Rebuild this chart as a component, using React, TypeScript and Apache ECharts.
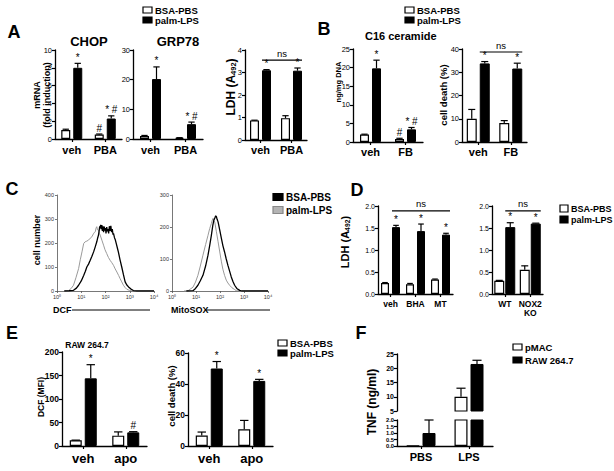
import React, { useEffect, useRef } from 'react';
import * as echarts from 'echarts';

const FONT = '"Liberation Sans", Arial, Helvetica, sans-serif';

// ---------------- Panel A ----------------
const aCats = ['veh', 'PBA'];
const chopBsa = [1.0, 0.5];
const chopBsaErr = [1.1, 0.56];
const chopPalm = [8.0, 2.3];
const chopPalmErr = [8.5, 2.6];
const chopBsaMarks = ['', '#'];
const chopPalmMarks = ['*', '* #'];

const grpBsa = [1.0, 0.4];
const grpBsaErr = [1.2, 0.45];
const grpPalm = [20.2, 5.0];
const grpPalmErr = [24.3, 5.7];
const grpBsaMarks = ['', ''];
const grpPalmMarks = ['*', '* #'];

const ldhABsa = [0.87, 0.97];
const ldhABsaErr = [0.88, 1.08];
const ldhAPalm = [3.1, 3.08];
const ldhAPalmErr = [3.13, 3.2];
const ldhAPalmMarks = ['*', '*'];
const ldhANs = 3.55;

// ---------------- Panel B ----------------
const bCats = ['veh', 'FB'];
const cerBsa = [2.0, 0.8];
const cerBsaErr = [2.1, 1.0];
const cerPalm = [19.8, 3.4];
const cerPalmErr = [22.0, 3.9];
const cerBsaMarks = ['', '#'];
const cerPalmMarks = ['*', '* #'];

const deathBBsa = [10.0, 8.2];
const deathBBsaErr = [14.0, 9.2];
const deathBPalm = [33.8, 31.6];
const deathBPalmErr = [34.6, 33.9];
const deathBPalmMarks = ['*', '*'];
const deathBNs = 38.7;

// ---------------- Panel C (x = log10 fluorescence) ----------------
const cTicksX = ['10⁰', '10¹', '10²', '10³', '10⁴'];
const dcfBsa = [
  [0.3, 0], [0.5, 1], [0.68, 3], [0.8, 12], [0.89, 24], [1.0, 42], [1.1, 65], [1.17, 82], [1.23, 100],
  [1.3, 112], [1.37, 128], [1.44, 145], [1.51, 163], [1.58, 185], [1.64, 205], [1.68, 222], [1.71, 233],
  [1.74, 252], [1.76, 270], [1.78, 262], [1.8, 276], [1.82, 258], [1.85, 275], [1.87, 250], [1.9, 270],
  [1.92, 245], [1.95, 268], [1.97, 252], [2.0, 262], [2.02, 240], [2.05, 266], [2.08, 248], [2.1, 258],
  [2.13, 240], [2.16, 270], [2.19, 250], [2.22, 272], [2.25, 245], [2.28, 258], [2.31, 235], [2.33, 240],
  [2.37, 222], [2.4, 215], [2.45, 195], [2.5, 175], [2.53, 163], [2.6, 130], [2.67, 100], [2.74, 68],
  [2.81, 38], [2.88, 25], [2.95, 17], [3.05, 8], [3.15, 2], [3.3, 0], [4.0, 0],
];
const dcfPalm = [
  [0.3, 0], [0.48, 2], [0.58, 10], [0.68, 24], [0.78, 55], [0.89, 93], [0.96, 130], [1.03, 163],
  [1.1, 198], [1.16, 205], [1.23, 208], [1.3, 212], [1.37, 220], [1.44, 226], [1.5, 238], [1.55, 245],
  [1.58, 247], [1.61, 262], [1.64, 268], [1.67, 255], [1.71, 254], [1.75, 240], [1.78, 233], [1.85, 212],
  [1.92, 191], [1.98, 172], [2.05, 156], [2.12, 140], [2.19, 128], [2.26, 118], [2.33, 107], [2.4, 92],
  [2.47, 79], [2.54, 65], [2.6, 52], [2.67, 38], [2.74, 24], [2.81, 14], [2.88, 7], [2.98, 3], [3.08, 0], [4.0, 0],
];
const mitoBsa = [
  [0.6, 0], [0.875, 1], [0.98, 8], [1.08, 18], [1.18, 32], [1.29, 49], [1.4, 78], [1.5, 112], [1.57, 142],
  [1.64, 174], [1.7, 205], [1.74, 220], [1.78, 227], [1.82, 235], [1.85, 232], [1.88, 224], [1.92, 216],
  [1.99, 190], [2.06, 164], [2.12, 142], [2.19, 122], [2.26, 100], [2.33, 80], [2.4, 62], [2.47, 44],
  [2.54, 30], [2.61, 18], [2.7, 8], [2.82, 2], [2.9, 0], [4.0, 0],
];
const mitoPalm = [
  [0.5, 0], [0.67, 1], [0.875, 12], [0.98, 28], [1.08, 49], [1.18, 78], [1.29, 112], [1.4, 145], [1.5, 174],
  [1.57, 195], [1.64, 211], [1.68, 222], [1.71, 227], [1.74, 220], [1.78, 216], [1.85, 185], [1.92, 154],
  [1.99, 122], [2.06, 91], [2.12, 68], [2.19, 49], [2.26, 34], [2.33, 25], [2.4, 18], [2.5, 10], [2.6, 5],
  [2.68, 1], [2.8, 0], [4.0, 0],
];

// ---------------- Panel D ----------------
const d1Cats = ['veh', 'BHA', 'MT'];
const d1Bsa = [0.25, 0.22, 0.33];
const d1BsaErr = [0.26, 0.24, 0.34];
const d1Palm = [1.52, 1.43, 1.35];
const d1PalmErr = [1.56, 1.59, 1.38];
const d1PalmMarks = ['*', '*', '*'];
const d1Ns = 1.89;

const d2Cats = ['WT', 'NOX2\nKO'];
const d2Bsa = [0.3, 0.55];
const d2BsaErr = [0.31, 0.64];
const d2Palm = [1.52, 1.6];
const d2PalmErr = [1.62, 1.61];
const d2PalmMarks = ['*', '*'];
const d2Ns = 1.89;

// ---------------- Panel E ----------------
const eCats = ['veh', 'apo'];
const dcfMfiBsa = [12, 22];
const dcfMfiBsaErr = [12.5, 30];
const dcfMfiPalm = [144, 29];
const dcfMfiPalmErr = [173, 30.5];
const dcfMfiPalmMarks = ['*', '#'];

const deathEBsa = [6.8, 10.8];
const deathEBsaErr = [9, 16.5];
const deathEPalm = [50, 42];
const deathEPalmErr = [54.5, 43];
const deathEPalmMarks = ['*', '*'];

// ---------------- Panel F ----------------
const fCats = ['PBS', 'LPS'];
const tnfPmac = [0.03, 10.0];
const tnfPmacErr = [0.03, 13.0];
const tnfRaw = [1.0, 21.5];
const tnfRawErr = [2.0, 22.8];

// ---------------- builders ----------------
function buildOption() {
  const grid: any[] = [];
  const xAxis: any[] = [];
  const yAxis: any[] = [];
  const series: any[] = [];

  const addBar = (c: any) => {
    const idx = grid.length;
    grid.push({ left: c.left, top: c.top, width: c.width, height: c.height });
    xAxis.push({
      type: 'category', gridIndex: idx, data: c.cats, show: c.showX !== false,
      axisLine: { show: true, onZero: false, lineStyle: { color: '#000', width: 1.3 } },
      axisTick: { show: true, alignWithLabel: true, length: 3, lineStyle: { color: '#000', width: 1.2 } },
      axisLabel: {
        interval: 0, fontFamily: FONT, fontWeight: 'bold', fontSize: c.catSize, color: '#000',
        margin: c.catMargin, lineHeight: c.catSize + 1,
      },
    });
    yAxis.push({
      type: 'value', gridIndex: idx, min: c.yMin, max: c.yMax, interval: c.yInterval,
      axisLine: { show: true, lineStyle: { color: '#000', width: 1.3 } },
      axisTick: { show: true, length: 3, lineStyle: { color: '#000', width: 1.2 } },
      splitLine: { show: false },
      axisLabel: {
        fontFamily: FONT, fontSize: c.ySize, fontWeight: c.yWeight || 'normal', color: '#000', margin: 3,
        formatter: (v: number) => (c.yDec ? v.toFixed(c.yDec) : String(v)),
      },
    });
    const prep = (arr: number[]) => arr.map((v) => (v < c.yMin ? '-' : v));
    series.push({
      type: 'bar', xAxisIndex: idx, yAxisIndex: idx, data: prep(c.white), barWidth: c.bw,
      barGap: `${(c.gap / c.bw) * 100}%`, clip: true, silent: true,
      itemStyle: { color: '#fff', borderColor: '#000', borderWidth: 1.2 },
    });
    series.push({
      type: 'bar', xAxisIndex: idx, yAxisIndex: idx, data: prep(c.black), barWidth: c.bw,
      barGap: `${(c.gap / c.bw) * 100}%`, clip: true, silent: true,
      itemStyle: { color: '#000', borderColor: '#000', borderWidth: 1 },
    });
    const meta: any[] = [];
    c.cats.forEach((_: any, i: number) => {
      const groups = [
        [c.white, c.whiteErr, c.whiteMarks, 0],
        [c.black, c.blackErr, c.blackMarks, 1],
      ];
      groups.forEach(([vals, errs, marks, side]: any) => {
        const v = vals[i];
        const e = errs && errs[i] != null ? errs[i] : v;
        if (v < c.yMin || v > c.yMax || e > c.yMax) return;
        meta.push({ i, v, e, side, mark: marks ? marks[i] : '' });
      });
    });
    series.push({
      type: 'custom', xAxisIndex: idx, yAxisIndex: idx, silent: true, z: 5,
      data: meta.map((m) => [m.i, m.v, m.e]),
      renderItem: (params: any, api: any) => {
        const m = meta[params.dataIndex];
        const pv = api.coord([m.i, m.v]);
        const pe = api.coord([m.i, m.e]);
        const x = pv[0] + (m.side ? 1 : -1) * (c.bw + c.gap) / 2;
        const children: any[] = [];
        if (m.e > m.v) {
          const cw = c.bw * 0.35;
          children.push({ type: 'line', shape: { x1: x, y1: pv[1], x2: x, y2: pe[1] }, style: { stroke: '#000', lineWidth: 1.2 } });
          children.push({ type: 'line', shape: { x1: x - cw, y1: pe[1], x2: x + cw, y2: pe[1] }, style: { stroke: '#000', lineWidth: 1.2 } });
        }
        if (m.mark) {
          children.push({
            type: 'text',
            style: { text: m.mark, x, y: pe[1] - 1, textAlign: 'center', textVerticalAlign: 'bottom', fontSize: c.markSize, fontFamily: FONT, fill: '#000' },
          });
        }
        return { type: 'group', children };
      },
    });
    if (c.ns != null) {
      series.push({
        type: 'custom', xAxisIndex: idx, yAxisIndex: idx, silent: true, z: 5,
        data: [[0, c.ns]],
        renderItem: (params: any, api: any) => {
          const n = c.cats.length;
          const p0 = api.coord([0, c.ns]);
          const p1 = api.coord([n - 1, c.ns]);
          const x0 = p0[0] + c.gap / 2;
          const x1 = p1[0] + c.gap / 2 + c.bw;
          return {
            type: 'group',
            children: [
              { type: 'line', shape: { x1: x0, y1: p0[1], x2: x1, y2: p0[1] }, style: { stroke: '#000', lineWidth: 1.2 } },
              { type: 'text', style: { text: 'ns', x: (x0 + x1) / 2, y: p0[1] - 2, textAlign: 'center', textVerticalAlign: 'bottom', fontSize: 9.5, fontFamily: FONT, fill: '#000' } },
            ],
          };
        },
      });
    }
  };

  const addHist = (c: any) => {
    const idx = grid.length;
    grid.push({ left: c.left, top: c.top, width: c.width, height: c.height });
    xAxis.push({
      type: 'value', gridIndex: idx, min: 0, max: 4, interval: 1,
      axisLine: { show: true, onZero: false, lineStyle: { color: '#555', width: 0.8 } },
      axisTick: { show: true, length: 2, lineStyle: { color: '#555', width: 0.8 } },
      splitLine: { show: false },
      axisLabel: { fontFamily: FONT, fontSize: 5.5, color: '#333', margin: 3, formatter: (v: number) => cTicksX[v] },
    });
    yAxis.push({
      type: 'value', gridIndex: idx, min: 0, max: c.yMax, interval: 100,
      axisLine: { show: true, lineStyle: { color: '#555', width: 0.8 } },
      axisTick: { show: true, length: 2, lineStyle: { color: '#555', width: 0.8 } },
      splitLine: { show: false },
      axisLabel: { fontFamily: FONT, fontSize: 5.5, color: '#333', margin: 3 },
    });
    series.push({
      type: 'line', xAxisIndex: idx, yAxisIndex: idx, data: c.gray, showSymbol: false, silent: true,
      lineStyle: { color: '#9a9a9a', width: 1 },
    });
    series.push({
      type: 'line', xAxisIndex: idx, yAxisIndex: idx, data: c.black, showSymbol: false, silent: true,
      lineStyle: { color: '#000', width: 1.3 },
    });
  };

  // Panel A
  addBar({ left: 55, top: 50, width: 67, height: 89, cats: aCats, white: chopBsa, whiteErr: chopBsaErr, whiteMarks: chopBsaMarks,
    black: chopPalm, blackErr: chopPalmErr, blackMarks: chopPalmMarks, yMin: 0, yMax: 10, yInterval: 2,
    ySize: 7.5, catSize: 11, catMargin: 5, bw: 9, gap: 3, markSize: 10 });
  addBar({ left: 133, top: 50, width: 70, height: 89, cats: aCats, white: grpBsa, whiteErr: grpBsaErr, whiteMarks: grpBsaMarks,
    black: grpPalm, blackErr: grpPalmErr, blackMarks: grpPalmMarks, yMin: 0, yMax: 30, yInterval: 10,
    ySize: 7.5, catSize: 11, catMargin: 5, bw: 9, gap: 3, markSize: 10 });
  addBar({ left: 245, top: 50, width: 62, height: 90, cats: aCats, white: ldhABsa, whiteErr: ldhABsaErr,
    black: ldhAPalm, blackErr: ldhAPalmErr, blackMarks: ldhAPalmMarks, yMin: 0, yMax: 4, yInterval: 1,
    ySize: 7.5, catSize: 11, catMargin: 4, bw: 9, gap: 3, markSize: 10, ns: ldhANs });

  // Panel B
  addBar({ left: 353, top: 49, width: 70, height: 93, cats: bCats, white: cerBsa, whiteErr: cerBsaErr, whiteMarks: cerBsaMarks,
    black: cerPalm, blackErr: cerPalmErr, blackMarks: cerPalmMarks, yMin: 0, yMax: 25, yInterval: 5,
    ySize: 7.5, catSize: 11, catMargin: 4, bw: 9, gap: 3, markSize: 10 });
  addBar({ left: 462, top: 49, width: 65, height: 93, cats: bCats, white: deathBBsa, whiteErr: deathBBsaErr,
    black: deathBPalm, blackErr: deathBPalmErr, blackMarks: deathBPalmMarks, yMin: 0, yMax: 40, yInterval: 10,
    ySize: 7.5, catSize: 11, catMargin: 4, bw: 10, gap: 3, markSize: 10, ns: deathBNs });

  // Panel C
  addHist({ left: 57, top: 195, width: 97, height: 96, yMax: 400, gray: dcfPalm, black: dcfBsa });
  addHist({ left: 172, top: 195, width: 96, height: 96, yMax: 300, gray: mitoPalm, black: mitoBsa });

  // Panel D
  addBar({ left: 378, top: 206, width: 75, height: 88, cats: d1Cats, white: d1Bsa, whiteErr: d1BsaErr,
    black: d1Palm, blackErr: d1PalmErr, blackMarks: d1PalmMarks, yMin: 0, yMax: 2, yInterval: 0.5, yDec: 1,
    ySize: 7, catSize: 8.5, catMargin: 5, bw: 8, gap: 3, markSize: 10, ns: d1Ns });
  addBar({ left: 492, top: 206, width: 51, height: 88, cats: d2Cats, white: d2Bsa, whiteErr: d2BsaErr,
    black: d2Palm, blackErr: d2PalmErr, blackMarks: d2PalmMarks, yMin: 0, yMax: 2, yInterval: 0.5, yDec: 1,
    ySize: 7, catSize: 8.5, catMargin: 5, bw: 10, gap: 1, markSize: 10, ns: d2Ns });

  // Panel E
  addBar({ left: 62, top: 352, width: 85, height: 94, cats: eCats, white: dcfMfiBsa, whiteErr: dcfMfiBsaErr,
    black: dcfMfiPalm, blackErr: dcfMfiPalmErr, blackMarks: dcfMfiPalmMarks, yMin: 0, yMax: 200, yInterval: 50,
    ySize: 8.5, yWeight: 'bold', catSize: 13, catMargin: 5, bw: 12, gap: 3, markSize: 10 });
  addBar({ left: 188, top: 353, width: 85, height: 93, cats: eCats, white: deathEBsa, whiteErr: deathEBsaErr,
    black: deathEPalm, blackErr: deathEPalmErr, blackMarks: deathEPalmMarks, yMin: 0, yMax: 60, yInterval: 20,
    ySize: 8.5, yWeight: 'bold', catSize: 13, catMargin: 5, bw: 12, gap: 3, markSize: 10 });

  // Panel F (broken axis)
  addBar({ left: 397, top: 354, width: 96, height: 57, cats: fCats, white: tnfPmac, whiteErr: tnfPmacErr,
    black: tnfRaw, blackErr: tnfRawErr, yMin: 5, yMax: 25, yInterval: 5, showX: false,
    ySize: 7, yWeight: 'bold', catSize: 11, catMargin: 5, bw: 13, gap: 3, markSize: 10 });
  addBar({ left: 397, top: 420, width: 96, height: 26, cats: fCats, white: tnfPmac, whiteErr: tnfPmacErr,
    black: tnfRaw, blackErr: tnfRawErr, yMin: 0, yMax: 2, yInterval: 0.5, yDec: 1,
    ySize: 5.8, yWeight: 'bold', catSize: 11, catMargin: 5, bw: 13, gap: 3, markSize: 10 });

  // ---------- graphic texts ----------
  const g: any[] = [];
  const txt = (x: number, y: number, text: string, fontSize: number, opts: any = {}) => {
    g.push({
      type: 'text', x, y, rotation: opts.rot ? Math.PI / 2 : 0,
      style: {
        text, fontSize, fontFamily: FONT, fontWeight: opts.weight || 'bold', fill: '#000',
        textAlign: opts.align || 'center', textVerticalAlign: 'middle', lineHeight: opts.lineHeight,
        rich: opts.rich,
      },
    });
  };
  const legend = (x: number, y: number, items: any[], fs: number, rowH: number, bw: number, bh: number) => {
    items.forEach((it, k) => {
      g.push({ type: 'rect', shape: { x, y: y + k * rowH - bh / 2, width: bw, height: bh }, style: { fill: it.fill, stroke: it.stroke || '#000', lineWidth: 1.2 } });
      txt(x + bw + 3, y + k * rowH, it.label, fs, { align: 'left' });
    });
  };
  const bsaPalm = [{ fill: '#fff', label: 'BSA-PBS' }, { fill: '#000', label: 'palm-LPS' }];

  // panel letters
  txt(14, 32, 'A', 18); txt(324, 29, 'B', 18); txt(12, 189, 'C', 18);
  txt(357, 190, 'D', 18); txt(12, 333, 'E', 18); txt(361, 333, 'F', 18);

  // titles
  txt(89, 41, 'CHOP', 13); txt(178, 41, 'GRP78', 13);
  txt(365, 36, 'C16 ceramide', 11, { align: 'left' });
  txt(87, 345, 'RAW 264.7', 8.5);

  // legends
  legend(143, 10, bsaPalm, 9.5, 10, 9, 6);
  legend(405, 10, bsaPalm, 9.5, 10, 9, 6);
  legend(273, 197, [{ fill: '#000', label: 'BSA-PBS' }, { fill: '#b4b4b4', stroke: '#888', label: 'palm-LPS' }], 10, 13, 10, 7);
  legend(560, 208.5, bsaPalm, 9, 11, 8, 7);
  legend(278, 343, bsaPalm, 9.5, 10, 9, 6);
  legend(513, 347, [{ fill: '#fff', label: 'pMAC' }, { fill: '#000', label: 'RAW 264.7' }], 9.5, 13, 9, 6);

  // y-axis titles
  const ldhRich = (fs: number) => ({
    a: { fontSize: fs, fontWeight: 'bold', fontFamily: FONT, fill: '#000' },
    s: { fontSize: fs * 0.62, fontWeight: 'bold', fontFamily: FONT, fill: '#000', verticalAlign: 'bottom', padding: [fs * 0.35, 0, 0, 0] },
  });
  txt(42, 95, 'mRNA\n(fold induction)', 9, { rot: true, lineHeight: 10 });
  txt(231, 87, '{a|LDH (A}{s|492}{a|)}', 12, { rot: true, rich: ldhRich(12) });
  txt(338, 82, 'ng/mg DNA', 7.5, { rot: true });
  txt(443, 95, 'cell death (%)', 9.5, { rot: true });
  txt(37, 240, 'cell number', 9, { rot: true });
  txt(345, 242, '{a|LDH (A}{s|492}{a|)}', 11, { rot: true, rich: ldhRich(11) });
  txt(41, 397, 'DCF (MFI)', 8.5, { rot: true });
  txt(171, 396, 'cell death (%)', 9.5, { rot: true });
  txt(372, 402, 'TNF (ng/ml)', 12, { rot: true });

  // flow cytometry channel labels
  txt(53, 310, 'DCF', 9, { align: 'left' });
  g.push({ type: 'line', shape: { x1: 72, y1: 310, x2: 150, y2: 310 }, style: { stroke: '#000', lineWidth: 1 } });
  txt(171, 310, 'MitoSOX', 9, { align: 'left' });
  g.push({ type: 'line', shape: { x1: 206, y1: 310, x2: 270, y2: 310 }, style: { stroke: '#000', lineWidth: 1 } });

  return { animation: false, backgroundColor: '#fff', grid, xAxis, yAxis, series, graphic: { elements: g } };
}

export default function App() {
  const ref = useRef<HTMLDivElement>(null);
  useEffect(() => {
    const chart = echarts.init(ref.current as HTMLDivElement, null, { renderer: 'svg' });
    chart.setOption(buildOption() as any);
    return () => chart.dispose();
  }, []);
  return <div ref={ref} style={{ position: 'absolute', left: 0, top: 0, width: 614, height: 471, background: '#fff' }} />;
}
